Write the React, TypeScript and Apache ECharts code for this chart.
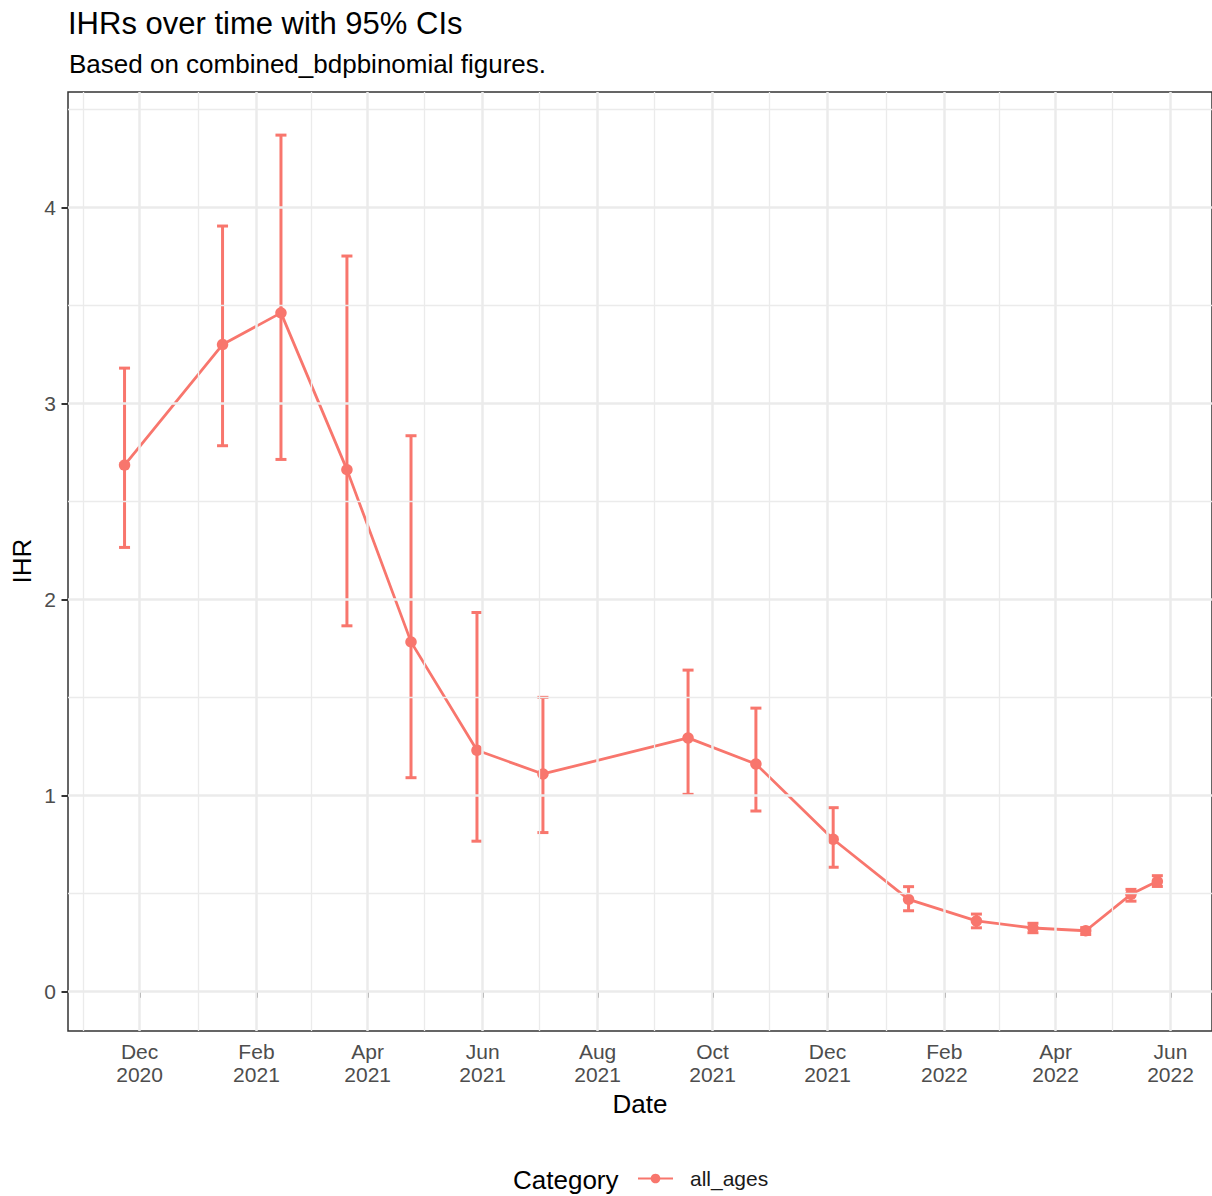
import React, { useEffect, useRef } from 'react';
import * as echarts from 'echarts';

// ---- data ----
const dates = ['2020-11-23', '2021-01-14', '2021-02-14', '2021-03-21', '2021-04-24', '2021-05-29', '2021-07-03', '2021-09-18', '2021-10-24', '2021-12-04', '2022-01-13', '2022-02-18', '2022-03-20', '2022-04-17', '2022-05-11', '2022-05-25'];
const ihr = [2.685, 3.30, 3.462, 2.662, 1.783, 1.23, 1.109, 1.293, 1.16, 0.776, 0.469, 0.359, 0.323, 0.309, 0.495, 0.561];
const lower = [2.265, 2.784, 2.714, 1.865, 1.09, 0.766, 0.81, 1.005, 0.92, 0.633, 0.411, 0.324, 0.299, 0.29, 0.46, 0.535];
const upper = [3.18, 3.905, 4.369, 3.752, 2.835, 1.933, 1.50, 1.639, 1.445, 0.937, 0.534, 0.394, 0.347, 0.325, 0.52, 0.59];

const xTickDates = ['2020-12-01', '2021-02-01', '2021-04-01', '2021-06-01', '2021-08-01', '2021-10-01', '2021-12-01', '2022-02-01', '2022-04-01', '2022-06-01'];
const xTickLabels = ['Dec\n2020', 'Feb\n2021', 'Apr\n2021', 'Jun\n2021', 'Aug\n2021', 'Oct\n2021', 'Dec\n2021', 'Feb\n2022', 'Apr\n2022', 'Jun\n2022'];
const xMinorDates = ['2020-11-01', '2021-01-01', '2021-03-02', '2021-05-01', '2021-07-01', '2021-08-31', '2021-10-31', '2022-01-01', '2022-03-02', '2022-05-01'];
const yTicks = [0, 1, 2, 3, 4];
const yMinor = [0.5, 1.5, 2.5, 3.5, 4.5];
const xRange = ['2020-10-24', '2022-06-23'];
const yRange = [-0.2026, 4.589];

const seriesName = 'all_ages';
const titleText = 'IHRs over time with 95% CIs';
const subtitleText = 'Based on combined_bdpbinomial figures.';

const COLOR = '#F8766D';
const FONT = '"Liberation Sans", Arial, sans-serif';
const ts = (s: string) => Date.parse(s + 'T00:00:00Z');

export default function App() {
  const ref = useRef<HTMLDivElement>(null);
  useEffect(() => {
    if (!ref.current) return;
    const chart = echarts.init(ref.current, undefined, { renderer: 'svg' });
    const lineData = dates.map((d, i) => [ts(d), ihr[i]]);
    const ciData = dates.map((d, i) => [ts(d), lower[i], upper[i]]);
    const majorStyle = { color: '#EBEBEB', width: 2.5, type: 'solid' };
    const minorStyle = { color: '#EBEBEB', width: 1.3, type: 'solid' };
    const gridLines: any[] = [
      ...xMinorDates.map((d) => ({ xAxis: ts(d), lineStyle: minorStyle })),
      ...yMinor.map((v) => ({ yAxis: v, lineStyle: minorStyle })),
      ...xTickDates.map((d) => ({ xAxis: ts(d), lineStyle: majorStyle })),
      ...yTicks.map((v) => ({ yAxis: v, lineStyle: majorStyle })),
    ];
    const tickVals = xTickDates.map(ts);
    const option: any = {
      animation: false,
      textStyle: { fontFamily: FONT },
      grid: {
        left: 68, right: 0, top: 92, bottom: 165,
        show: true, borderColor: '#333333', borderWidth: 1.5, backgroundColor: '#FFFFFF', z: 0,
      },
      xAxis: {
        type: 'value',
        min: ts(xRange[0]),
        max: ts(xRange[1]),
        axisLine: { show: false },
        splitLine: { show: false },
        axisTick: { show: true, customValues: tickVals, length: 6.5, lineStyle: { color: '#333333', width: 2 } },
        axisLabel: {
          customValues: tickVals,
          color: '#4D4D4D', fontSize: 21, lineHeight: 23, margin: 9, fontFamily: FONT,
          formatter: (v: number) => {
            const i = tickVals.indexOf(v);
            return i >= 0 ? xTickLabels[i] : '';
          },
        },
      },
      yAxis: {
        type: 'value',
        min: yRange[0],
        max: yRange[1],
        axisLine: { show: false },
        splitLine: { show: false },
        axisTick: { show: true, customValues: yTicks, length: 6.5, lineStyle: { color: '#333333', width: 2 } },
        axisLabel: { customValues: yTicks, color: '#4D4D4D', fontSize: 21, margin: 12, fontFamily: FONT },
      },
      legend: {
        data: [seriesName],
        left: 637, top: 1168, padding: 0,
        itemWidth: 35, itemHeight: 12,
        textStyle: { fontSize: 21, color: '#1A1A1A', fontFamily: FONT, padding: [0, 0, 0, 12] },
      },
      graphic: [
        { type: 'text', x: 68, y: 23, style: { text: titleText, fontSize: 31, fill: '#000000', fontFamily: FONT, verticalAlign: 'middle' } },
        { type: 'text', x: 69, y: 64, style: { text: subtitleText, fontSize: 26, fill: '#000000', fontFamily: FONT, verticalAlign: 'middle' } },
        { type: 'text', x: 640, y: 1104, style: { text: 'Date', fontSize: 26, fill: '#000000', fontFamily: FONT, align: 'center', verticalAlign: 'middle' } },
        { type: 'text', x: 22, y: 561, rotation: Math.PI / 2, style: { text: 'IHR', fontSize: 26, fill: '#000000', fontFamily: FONT, align: 'center', verticalAlign: 'middle' } },
        { type: 'text', x: 513, y: 1180, style: { text: 'Category', fontSize: 26, fill: '#000000', fontFamily: FONT, verticalAlign: 'middle' } },
      ],
      series: [
        {
          type: 'line', name: 'grid', data: [], silent: true, z: 1, symbol: 'none',
          markLine: { silent: true, symbol: ['none', 'none'], label: { show: false }, emphasis: { disabled: true }, animation: false, data: gridLines },
        },
        {
          type: 'custom', name: 'ci', data: ciData, z: 3, silent: true,
          encode: { x: 0, y: [1, 2] },
          renderItem: (params: any, api: any) => {
            const x = api.value(0);
            const pLo = api.coord([x, api.value(1)]);
            const pHi = api.coord([x, api.value(2)]);
            const w = 5.5;
            const style = { stroke: COLOR, lineWidth: 3, fill: null };
            return {
              type: 'group',
              children: [
                { type: 'line', shape: { x1: pLo[0], y1: pLo[1], x2: pHi[0], y2: pHi[1] }, style },
                { type: 'line', shape: { x1: pLo[0] - w, y1: pLo[1], x2: pLo[0] + w, y2: pLo[1] }, style },
                { type: 'line', shape: { x1: pHi[0] - w, y1: pHi[1], x2: pHi[0] + w, y2: pHi[1] }, style },
              ],
            };
          },
        },
        {
          type: 'line', name: seriesName, data: lineData, z: 4,
          symbol: 'circle', symbolSize: 11.5,
          lineStyle: { color: COLOR, width: 2.8 },
          itemStyle: { color: COLOR },
          emphasis: { disabled: true },
        },
      ],
    };
    chart.setOption(option);
    return () => chart.dispose();
  }, []);
  return <div ref={ref} style={{ position: 'absolute', left: 0, top: 0, width: 1212, height: 1196 }} />;
}
